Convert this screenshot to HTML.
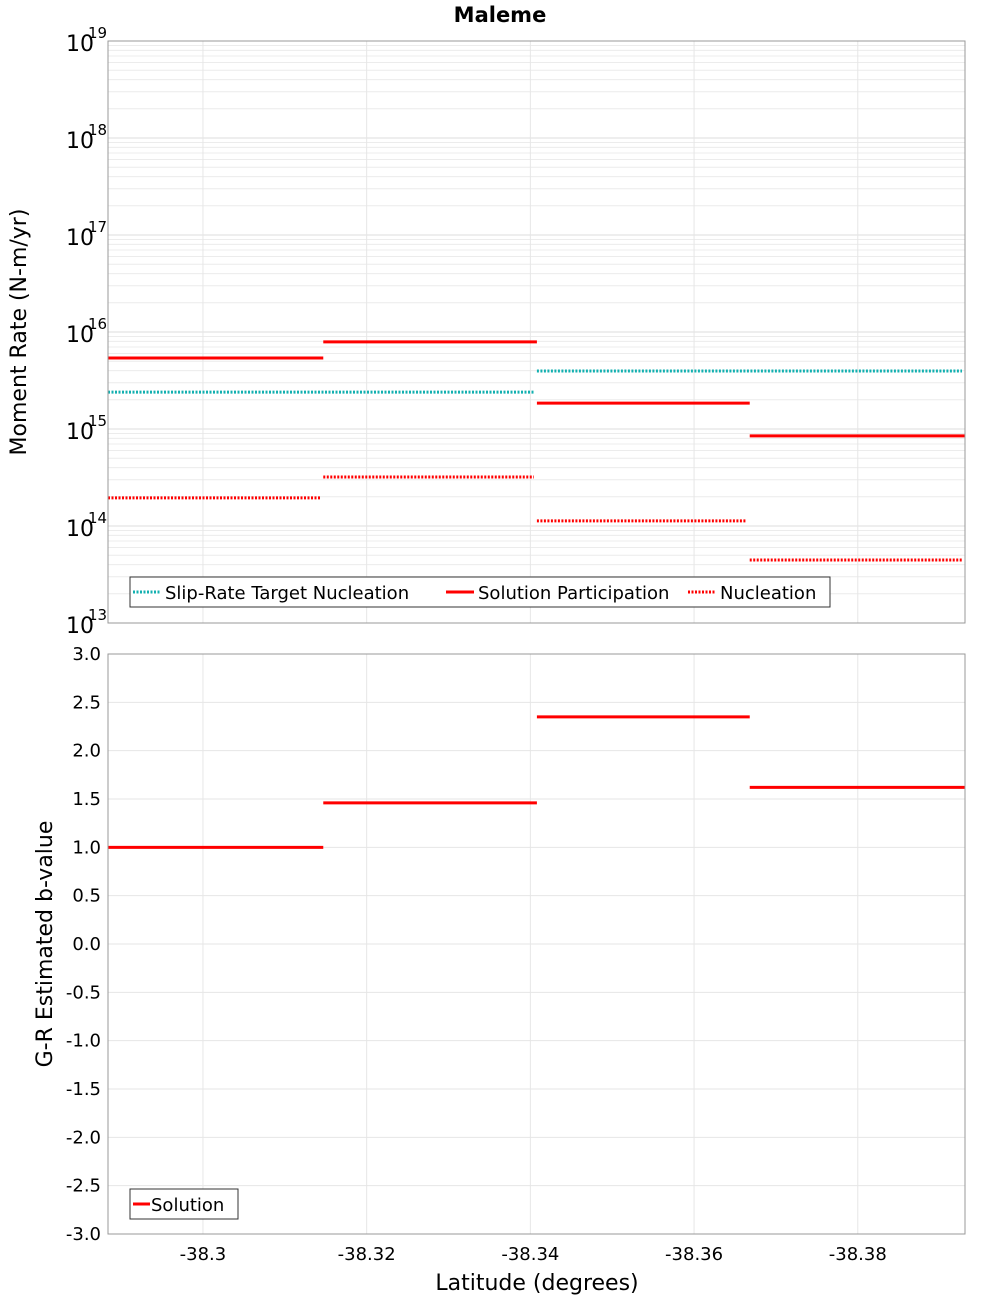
<!DOCTYPE html>
<html><head><meta charset="utf-8"><style>
body{margin:0;background:#fff;}
svg{display:block;font-family:"DejaVu Sans","Liberation Sans",sans-serif;}
</style></head><body>
<svg id="chart" width="1000" height="1300" viewBox="0 0 1000 1300">
<text x="500" y="22" text-anchor="middle" font-size="21" font-weight="bold">Maleme</text>
<g id="topPanel"></g>
<g id="botPanel"></g>
<text transform="translate(26,332) rotate(-90)" text-anchor="middle" font-size="22">Moment Rate (N-m/yr)</text>
<text transform="translate(52,944) rotate(-90)" text-anchor="middle" font-size="22">G-R Estimated b-value</text>
<text x="537" y="1290" text-anchor="middle" font-size="22">Latitude (degrees)</text>
</svg>
<script>
const xTicks=[-38.3,-38.32,-38.34,-38.36,-38.38];
const xTickLabels=["-38.3","-38.32","-38.34","-38.36","-38.38"];
const segStarts=[-38.2884,-38.3147,-38.3408,-38.3668];
const segEnds=[-38.3147,-38.3408,-38.3668,-38.3931];
const participation=[5.4e15,7.9e15,1.85e15,8.5e14];
const nucleation=[1.95e14,3.2e14,1.13e14,4.46e13];
const targetStarts=[-38.2884,-38.3408];
const targetEnds=[-38.3408,-38.3931];
const targetValues=[2.4e15,3.96e15];
const bValues=[1.0,1.46,2.35,1.62];
const bTicks=[3,2.5,2,1.5,1,0.5,0,-0.5,-1,-1.5,-2,-2.5,-3];
const logDecades=[13,14,15,16,17,18,19];

const NS="http://www.w3.org/2000/svg";
const X0=108,X1=965,LAT0=-38.2884,LAT1=-38.3931;
const xs=v=>X0+(v-LAT0)/(LAT1-LAT0)*(X1-X0);
const TY0=41,TY1=623;
const ysLog=v=>TY1-(Math.log10(v)-13)/6*(TY1-TY0);
const BY0=654,BY1=1234;
const ysB=v=>BY1-(v+3)/6*(BY1-BY0);
function mk(p,tag,attrs,text){const e=document.createElementNS(NS,tag);for(const k in attrs)e.setAttribute(k,attrs[k]);if(text!==undefined)e.textContent=text;p.appendChild(e);return e;}
const topG=document.getElementById('topPanel'),botG=document.getElementById('botPanel');

for(let d=13;d<19;d++){for(let m=2;m<10;m++){const yy=ysLog(m*Math.pow(10,d));const l=mk(topG,'line',{x1:X0,x2:X1,y1:yy,y2:yy,stroke:'#ececec','stroke-width':1});

}}
logDecades.forEach(d=>{const y=ysLog(Math.pow(10,d));
const l=mk(topG,'line',{x1:X0,x2:X1,y1:y,y2:y,stroke:'#dcdcdc'});


const t=mk(topG,'text',{x:94,y:y+10,'text-anchor':'end','font-size':22},'10');


const s=mk(topG,'text',{x:88,y:y-3,'font-size':15},String(d));

});
xTicks.forEach(v=>{[topG,botG].forEach((g,i)=>{const l=mk(g,'line',{x1:xs(v),x2:xs(v),y1:i?BY0:TY0,y2:i?BY1:TY1,stroke:'#e6e6e6'});

});});
bTicks.forEach(v=>{const y=ysB(v);
const l=mk(botG,'line',{x1:X0,x2:X1,y1:y,y2:y,stroke:'#e6e6e6'});


const t=mk(botG,'text',{x:101,y:y+6,'text-anchor':'end','font-size':18},v.toFixed(1));

});
xTicks.forEach((v,i)=>{const t=mk(botG,'text',{x:xs(v),y:1260,'text-anchor':'middle','font-size':18},xTickLabels[i]);

});

targetValues.forEach((v,i)=>{const l=mk(topG,'line',{x1:xs(targetStarts[i]),x2:xs(targetEnds[i])-3,y1:ysLog(v),y2:ysLog(v),stroke:'#13b0b0','stroke-width':3,'stroke-dasharray':'2,1.5'});

});
participation.forEach((v,i)=>{const l=mk(topG,'line',{x1:xs(segStarts[i]),x2:xs(segEnds[i]),y1:ysLog(v),y2:ysLog(v),stroke:'#f00','stroke-width':3});

});
nucleation.forEach((v,i)=>{const l=mk(topG,'line',{x1:xs(segStarts[i]),x2:xs(segEnds[i])-3,y1:ysLog(v),y2:ysLog(v),stroke:'#f00','stroke-width':3,'stroke-dasharray':'2,1.5'});

});
bValues.forEach((v,i)=>{const l=mk(botG,'line',{x1:xs(segStarts[i]),x2:xs(segEnds[i]),y1:ysB(v),y2:ysB(v),stroke:'#f00','stroke-width':3});

});

[[topG,TY0,TY1],[botG,BY0,BY1]].forEach(([g,a,b])=>{const r=mk(g,'rect',{x:X0,y:a,width:X1-X0,height:b-a,fill:'none',stroke:'#999'});

});

const lg=mk(topG,'g',{});


mk(lg,'rect',{x:130,y:577,width:700,height:30,fill:'#fff',stroke:'#333'});
const items=[['Slip-Rate Target Nucleation','#13b0b0',true,133],['Solution Participation','#f00',false,446],['Nucleation','#f00',true,688]];
items.forEach(([t,c,d,x])=>{const l=mk(lg,'line',{x1:x,x2:x+28,y1:592,y2:592,stroke:c,'stroke-width':3,'stroke-dasharray':d?'2,1.5':'none'});


const tx=mk(lg,'text',{x:x+32,y:599,'font-size':18},t);

});
const lg2=mk(botG,'g',{});


mk(lg2,'rect',{x:130,y:1189,width:108,height:30,fill:'#fff',stroke:'#333'});
mk(lg2,'line',{x1:133,x2:150,y1:1204,y2:1204,stroke:'#f00','stroke-width':3});
const t2=mk(lg2,'text',{x:151,y:1211,'font-size':18},'Solution');


</script>
</body></html>
